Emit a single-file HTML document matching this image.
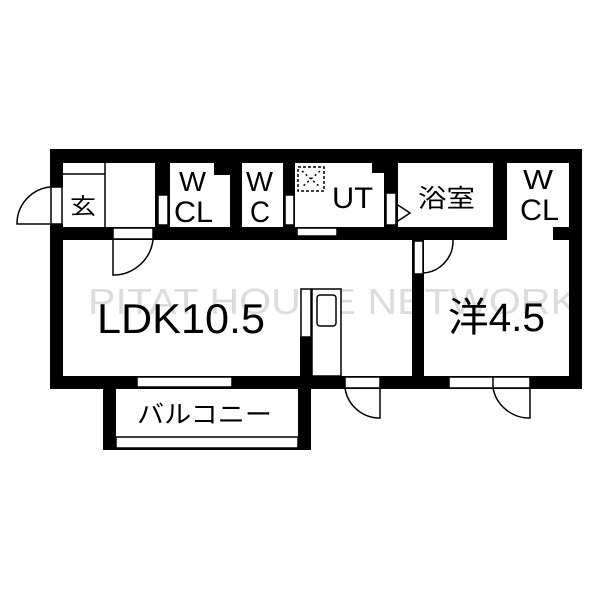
<!DOCTYPE html>
<html><head><meta charset="utf-8"><style>
html,body{margin:0;padding:0;background:#fff;}
svg{display:block;}
text{font-family:"Liberation Sans","Noto Sans CJK JP",sans-serif;fill:#000;}
</style></head><body>
<svg width="600" height="600" viewBox="0 0 600 600" xmlns="http://www.w3.org/2000/svg">
<rect width="600" height="600" fill="#fff"/>
<text x="88" y="314" font-size="36" style="fill:#dcdcdc" textLength="490" lengthAdjust="spacingAndGlyphs">PITAT HOUSE NETWORK</text>
<g fill="#000">
<rect x="50" y="149" width="532" height="14"/>
<rect x="50" y="149" width="13" height="38"/>
<rect x="50" y="224" width="13" height="165"/>
<rect x="569" y="149" width="13" height="240"/>
<rect x="50" y="376" width="532" height="13"/>
<rect x="50" y="227" width="457" height="13"/>
<rect x="553" y="227" width="16" height="13"/>
<rect x="155" y="163" width="15" height="64"/>
<rect x="214" y="163" width="16" height="12"/>
<rect x="230" y="163" width="12" height="64"/>
<rect x="283" y="163" width="12" height="64"/>
<rect x="372" y="163" width="26" height="10"/>
<rect x="384" y="163" width="14" height="64"/>
<rect x="493" y="163" width="14" height="77"/>
<rect x="412" y="240" width="12" height="140"/>
<rect x="300" y="337" width="12" height="45"/>
<rect x="103" y="389" width="13" height="60"/>
<rect x="298" y="389" width="13" height="60"/>
<rect x="103" y="447" width="208" height="3"/>
</g>
<g fill="#fff" stroke="#000" stroke-width="1.5">
<rect x="51" y="187" width="11" height="37"/>
<rect x="158" y="195" width="10" height="30"/>
<rect x="285" y="195" width="9" height="30"/>
<rect x="386" y="193" width="10" height="32"/>
<rect x="113" y="228" width="40" height="11"/>
<rect x="297" y="228" width="40" height="8"/>
<rect x="414" y="241" width="9" height="33"/>
<rect x="137" y="377" width="95" height="10"/>
<rect x="345" y="377" width="35" height="11"/>
<rect x="449" y="377" width="81" height="11"/>
<rect x="301" y="289" width="10" height="48"/>
<rect x="312" y="289" width="29" height="87"/>
<rect x="317" y="295" width="19" height="31" rx="3"/>
<rect x="116" y="437" width="182" height="11"/>
</g>
<g fill="none" stroke="#000" stroke-width="1.5">
<line x1="63" y1="174" x2="105" y2="174"/>
<line x1="105" y1="163" x2="105" y2="227"/>
<path d="M50 187 A37 37 0 0 0 17 224 L50 224"/>
<path d="M113 240 L113 275 A40 40 0 0 0 153 240"/>
<path d="M423 273 A32 32 0 0 0 453 240"/>
<path d="M380 388 L380 418 A35 35 0 0 1 345 388"/>
<path d="M530 388 L530 418 A37 37 0 0 1 493 388"/>
<line x1="493" y1="377" x2="493" y2="388"/>
<path d="M398 205 L410 213 L398 221"/>
<rect x="298" y="167" width="26" height="24" stroke-dasharray="3 2"/>
<line x1="302" y1="171" x2="320" y2="187" stroke-dasharray="2 3"/>
<line x1="320" y1="171" x2="302" y2="187" stroke-dasharray="2 3"/>
</g>
<text x="70" y="214" font-size="22" textLength="26" lengthAdjust="spacingAndGlyphs">玄</text>
<text x="179" y="191" font-size="28" textLength="27" lengthAdjust="spacingAndGlyphs">W</text>
<text x="174" y="222" font-size="30" textLength="39" lengthAdjust="spacingAndGlyphs">CL</text>
<text x="246" y="191" font-size="28" textLength="27" lengthAdjust="spacingAndGlyphs">W</text>
<text x="250" y="222" font-size="30" textLength="20" lengthAdjust="spacingAndGlyphs">C</text>
<text x="332" y="208" font-size="30" textLength="41" lengthAdjust="spacingAndGlyphs">UT</text>
<text x="418" y="207" font-size="25" textLength="57" lengthAdjust="spacingAndGlyphs">浴室</text>
<text x="523" y="189" font-size="28" textLength="30" lengthAdjust="spacingAndGlyphs">W</text>
<text x="520" y="220" font-size="30" textLength="39" lengthAdjust="spacingAndGlyphs">CL</text>
<text x="97" y="333" font-size="42" textLength="168" lengthAdjust="spacingAndGlyphs">LDK10.5</text>
<text x="448" y="331" font-size="40" textLength="97" lengthAdjust="spacingAndGlyphs">洋4.5</text>
<text x="137" y="423" font-size="25" textLength="135" lengthAdjust="spacingAndGlyphs">バルコニー</text>
</svg>
</body></html>
